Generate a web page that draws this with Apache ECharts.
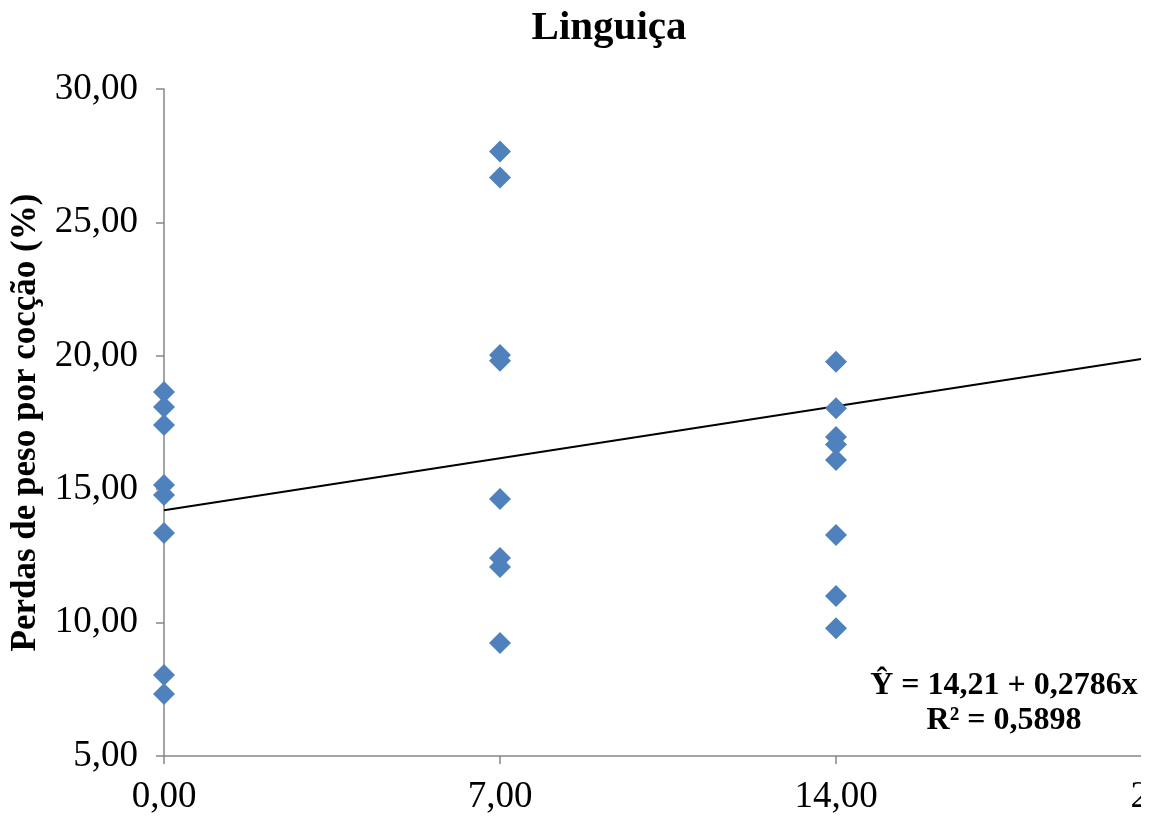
<!DOCTYPE html>
<html>
<head>
<meta charset="utf-8">
<script src="https://cdn.jsdelivr.net/npm/echarts@6/dist/echarts.min.js"></script>
<style>
html,body{margin:0;padding:0;background:#fff;}
#wrap{width:1141px;height:816px;overflow:hidden;position:relative;}
#chart{width:1200px;height:816px;}
</style>
</head>
<body>
<div id="wrap"><div id="chart"></div></div>
<script>
// Storage days (x) and cooking weight losses (%)
const days0 = [0, 0, 0, 0, 0, 0, 0, 0];
const loss0 = [18.64, 18.08, 17.41, 15.16, 14.78, 13.36, 8.04, 7.32];
const days7 = [7, 7, 7, 7, 7, 7, 7, 7];
const loss7 = [27.66, 26.68, 20.03, 19.81, 14.63, 12.42, 12.08, 9.24];
const days14 = [14, 14, 14, 14, 14, 14, 14, 14];
const loss14 = [19.78, 18.03, 16.96, 16.68, 16.09, 13.28, 11.00, 9.79];
// Trend line endpoints (Ŷ = 14,21 + 0,2786x)
const trendX = [0, 21];
const trendY = [14.21, 20.06];
const xTicks = [0, 7, 14, 21];
const yTicks = [5, 10, 15, 20, 25, 30];
const titleText = 'Linguiça';
const yName = 'Perdas de peso por cocção (%)';
const eqText = 'Ŷ = 14,21 + 0,2786x\nR² = 0,5898';

const pts = [];
[[days0, loss0], [days7, loss7], [days14, loss14]].forEach(([xs, ys]) => {
  xs.forEach((x, i) => pts.push([x, ys[i]]));
});
const trend = trendX.map((x, i) => [x, trendY[i]]);
const fmt = v => v.toFixed(2).replace('.', ',');
const FONT = "'Liberation Serif','Times New Roman',serif";

const chart = echarts.init(document.getElementById('chart'), null, {renderer: 'canvas'});
chart.setOption({
  animation: false,
  backgroundColor: '#fff',
  title: {
    text: titleText,
    left: 604, top: 3, textAlign: 'center',
    textStyle: {fontFamily: FONT, fontSize: 41, fontWeight: 'bold', color: '#000'}
  },
  grid: {left: 164, right: 28, top: 89, bottom: 60, containLabel: false, outerBoundsMode: 'none'},
  xAxis: {
    type: 'value', min: xTicks[0], max: xTicks[xTicks.length - 1], interval: 7,
    axisLine: {show: true, lineStyle: {color: '#868686', width: 1.5}},
    axisTick: {show: true, inside: false, length: 8, lineStyle: {color: '#868686', width: 1.5}},
    splitLine: {show: false},
    axisLabel: {formatter: fmt, fontFamily: FONT, fontSize: 37, color: '#000', margin: 23}
  },
  yAxis: {
    type: 'value', min: yTicks[0], max: yTicks[yTicks.length - 1], interval: 5,
    name: yName, nameLocation: 'middle', nameGap: 120,
    nameTextStyle: {fontFamily: FONT, fontSize: 35, fontWeight: 'bold', color: '#000'},
    axisLine: {show: true, lineStyle: {color: '#868686', width: 1.5}},
    axisTick: {show: true, inside: false, length: 8, lineStyle: {color: '#868686', width: 1.5}},
    splitLine: {show: false},
    axisLabel: {formatter: fmt, fontFamily: FONT, fontSize: 37, color: '#000', margin: 26}
  },
  series: [
    {
      type: 'line', data: trend, symbol: 'none', silent: true,
      lineStyle: {color: '#000', width: 2}, z: 1
    },
    {
      type: 'scatter', data: pts, symbol: 'diamond', symbolSize: [22, 22],
      itemStyle: {color: '#4F81BD', opacity: 1}, z: 2
    }
  ],
  graphic: [{
    type: 'text', x: 1004, y: 668,
    style: {
      text: eqText, textAlign: 'center', textVerticalAlign: 'top',
      font: "bold 32px 'Liberation Serif','Times New Roman',serif",
      fill: '#000', lineHeight: 35
    }
  }]
});
</script>
</body>
</html>
